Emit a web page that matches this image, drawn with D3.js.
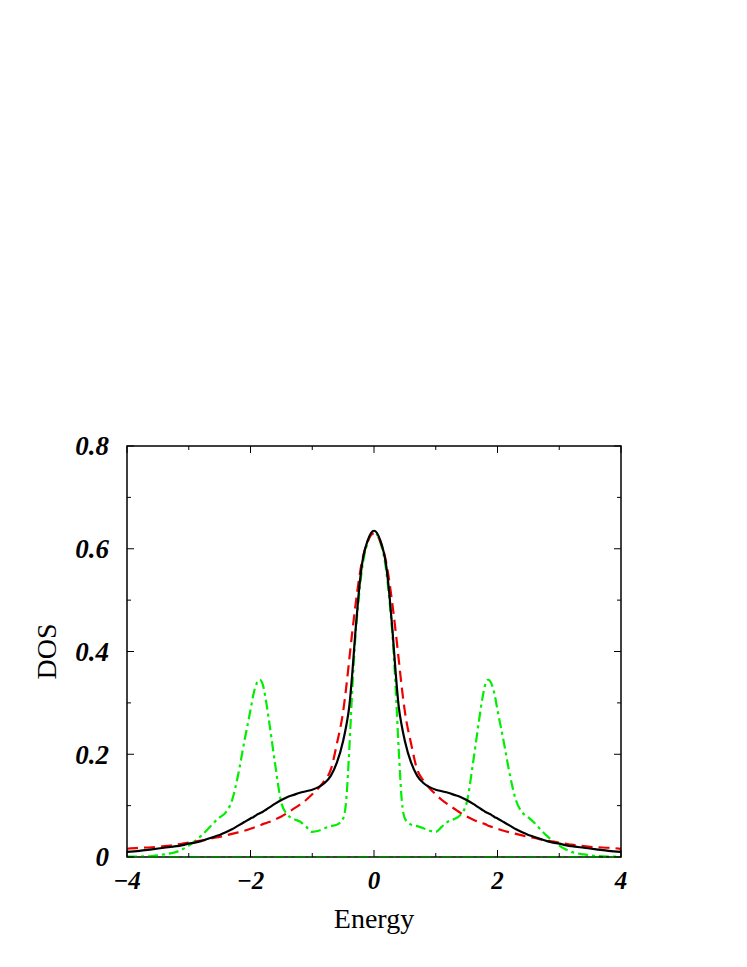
<!DOCTYPE html>
<html lang="en">
<head>
  <meta charset="UTF-8">
  <title>DOS vs Energy</title>
  <script src="https://d3js.org/d3.v7.min.js"></script>
  <style>
    body { margin: 0; background: #fff; }
    .tick-label { font-family: "Times New Roman", "Liberation Serif", "DejaVu Serif", serif; font-weight: bold; font-style: italic; }
    .axis-title { font-family: "Times New Roman", "Liberation Serif", "DejaVu Serif", serif; font-size: 28px; }
  </style>
</head>
<body>
  <svg id="chart"></svg>
  <script>
    // energy grid
    const energy = [-4, -3.8, -3.6, -3.4, -3.2, -3.1, -3, -2.9, -2.8, -2.7, -2.6, -2.5, -2.4, -2.3, -2.2, -2.1, -2, -1.95, -1.9, -1.85, -1.8, -1.75, -1.7, -1.6, -1.5, -1.4, -1.3, -1.2, -1.1, -1, -0.9, -0.8, -0.7, -0.6, -0.5, -0.45, -0.4, -0.35, -0.3, -0.25, -0.2, -0.1, 0,
      0.1, 0.2, 0.25, 0.3, 0.35, 0.4, 0.45, 0.5, 0.6, 0.7, 0.8, 0.9, 1, 1.1, 1.2, 1.3, 1.4, 1.5, 1.6, 1.7, 1.75, 1.8, 1.85, 1.9, 1.95, 2, 2.1, 2.2, 2.3, 2.4, 2.5, 2.6, 2.7, 2.8, 2.9, 3, 3.1, 3.2, 3.4, 3.6, 3.8, 4];

    // black solid
    const dosSolid = [0.010, 0.012, 0.015, 0.018, 0.021, 0.023, 0.026, 0.028, 0.031, 0.035, 0.039, 0.043, 0.048, 0.054, 0.061, 0.068, 0.075, 0.078, 0.082, 0.085, 0.088, 0.092, 0.096, 0.104, 0.111, 0.117, 0.121, 0.125, 0.128, 0.131, 0.136, 0.144, 0.158, 0.184, 0.226, 0.255, 0.293, 0.36, 0.44, 0.51, 0.565, 0.617, 0.635,
      0.617, 0.565, 0.51, 0.44, 0.36, 0.293, 0.255, 0.226, 0.184, 0.158, 0.144, 0.136, 0.131, 0.128, 0.125, 0.121, 0.117, 0.111, 0.104, 0.096, 0.092, 0.088, 0.085, 0.082, 0.078, 0.075, 0.068, 0.061, 0.054, 0.048, 0.043, 0.039, 0.035, 0.031, 0.028, 0.026, 0.023, 0.021, 0.018, 0.015, 0.012, 0.010];

    // red dashed
    const dosDashed = [0.016, 0.018, 0.019, 0.021, 0.024, 0.026, 0.028, 0.030, 0.032, 0.034, 0.037, 0.039, 0.042, 0.045, 0.048, 0.051, 0.055, 0.057, 0.059, 0.061, 0.064, 0.066, 0.068, 0.073, 0.079, 0.086, 0.094, 0.102, 0.111, 0.122, 0.134, 0.149, 0.170, 0.221, 0.283, 0.33, 0.385, 0.44, 0.49, 0.535, 0.572, 0.615, 0.630,
      0.615, 0.572, 0.535, 0.49, 0.44, 0.385, 0.33, 0.283, 0.221, 0.170, 0.149, 0.134, 0.122, 0.111, 0.102, 0.094, 0.086, 0.079, 0.073, 0.068, 0.066, 0.064, 0.061, 0.059, 0.057, 0.055, 0.051, 0.048, 0.045, 0.042, 0.039, 0.037, 0.034, 0.032, 0.030, 0.028, 0.026, 0.024, 0.021, 0.019, 0.018, 0.016];

    // green dash-dot
    const dosDashDot = [0.001, 0.001, 0.002, 0.005, 0.010, 0.015, 0.022, 0.031, 0.041, 0.053, 0.066, 0.077, 0.087, 0.11, 0.16, 0.225, 0.286, 0.318, 0.338, 0.345, 0.335, 0.305, 0.265, 0.18, 0.105, 0.082, 0.074, 0.069, 0.059, 0.049, 0.051, 0.056, 0.060, 0.063, 0.075, 0.11, 0.21, 0.33, 0.43, 0.5, 0.555, 0.613, 0.632,
      0.613, 0.555, 0.5, 0.43, 0.33, 0.21, 0.11, 0.075, 0.063, 0.060, 0.056, 0.051, 0.049, 0.059, 0.069, 0.074, 0.082, 0.105, 0.18, 0.265, 0.305, 0.335, 0.345, 0.338, 0.318, 0.286, 0.225, 0.16, 0.11, 0.087, 0.077, 0.066, 0.053, 0.041, 0.031, 0.022, 0.015, 0.010, 0.005, 0.002, 0.001, 0.001];

    // flat line along zero
    const zeroLine = [-4, 4];

    const xTicks = [-4, -2, 0, 2, 4];
    const yTicks = [0, 0.2, 0.4, 0.6, 0.8];
    const xMinor = [-3, -1, 1, 3];
    const yMinor = [0.1, 0.3, 0.5, 0.7];

    const width = 747, height = 967;
    const margin = { top: 446, right: 126, bottom: 110, left: 127 };
    const plotW = width - margin.left - margin.right;
    const plotH = height - margin.top - margin.bottom;

    const svg = d3.select("#chart")
      .attr("width", width)
      .attr("height", height);

    const g = svg.append("g")
      .attr("transform", "translate(" + margin.left + "," + margin.top + ")");

    const x = d3.scaleLinear().domain([-4, 4]).range([0, plotW]);
    const y = d3.scaleLinear().domain([0, 0.8]).range([plotH, 0]);

    const line = d3.line()
      .x(d => x(d[0]))
      .y(d => y(d[1]))
      .curve(d3.curveMonotoneX);

    // curves
    g.append("path")
      .datum(energy.map((e, i) => [e, dosDashDot[i]]))
      .attr("d", line)
      .attr("fill", "none")
      .attr("stroke", "#00ee00")
      .attr("stroke-width", 2.2)
      .attr("stroke-dasharray", "10,4,3,4");

    g.append("path")
      .datum(energy.map((e, i) => [e, dosDashed[i]]))
      .attr("d", line)
      .attr("fill", "none")
      .attr("stroke", "#ee0000")
      .attr("stroke-width", 2.2)
      .attr("stroke-dasharray", "11,6");

    g.append("path")
      .datum(energy.map((e, i) => [e, dosSolid[i]]))
      .attr("d", line)
      .attr("fill", "none")
      .attr("stroke", "#000")
      .attr("stroke-width", 2.2);

    // frame
    g.append("rect")
      .attr("x", 0).attr("y", 0)
      .attr("width", plotW).attr("height", plotH)
      .attr("fill", "none")
      .attr("stroke", "#000")
      .attr("stroke-width", 1.5);

    g.append("path")
      .datum(zeroLine.map(e => [e, 0]))
      .attr("d", line)
      .attr("fill", "none")
      .attr("stroke", "#0a7a0a")
      .attr("stroke-width", 2)
      .attr("stroke-dasharray", "10,4,3,4");

    // ticks on all four sides, pointing inward
    const major = 7, minor = 4;
    xTicks.concat(xMinor).forEach(v => {
      const len = xTicks.includes(v) ? major : minor;
      g.append("line").attr("x1", x(v)).attr("x2", x(v)).attr("y1", plotH).attr("y2", plotH - len).attr("stroke", "#000");
      g.append("line").attr("x1", x(v)).attr("x2", x(v)).attr("y1", 0).attr("y2", len).attr("stroke", "#000");
    });
    yTicks.concat(yMinor).forEach(v => {
      const len = yTicks.includes(v) ? major : minor;
      g.append("line").attr("y1", y(v)).attr("y2", y(v)).attr("x1", 0).attr("x2", len).attr("stroke", "#000");
      g.append("line").attr("y1", y(v)).attr("y2", y(v)).attr("x1", plotW).attr("x2", plotW - len).attr("stroke", "#000");
    });

    // tick labels
    const fmtX = d => d < 0 ? "\u2212" + Math.abs(d) : String(d);
    const fmtY = d => d === 0 ? "0" : d3.format(".1f")(d);

    g.selectAll(".xlab")
      .data(xTicks)
      .enter()
      .append("text")
      .attr("class", "tick-label")
      .attr("font-size", "25px")
      .attr("x", d => x(d))
      .attr("y", plotH + 32)
      .attr("text-anchor", "middle")
      .text(fmtX);

    g.selectAll(".ylab")
      .data(yTicks)
      .enter()
      .append("text")
      .attr("class", "tick-label")
      .attr("font-size", "27px")
      .attr("x", -18)
      .attr("y", d => y(d))
      .attr("dy", "0.35em")
      .attr("text-anchor", "end")
      .text(fmtY);

    // axis titles
    g.append("text")
      .attr("class", "axis-title")
      .attr("x", plotW / 2)
      .attr("y", plotH + 71)
      .attr("text-anchor", "middle")
      .text("Energy");

    g.append("text")
      .attr("class", "axis-title")
      .attr("transform", "rotate(-90)")
      .attr("x", -y(0.4))
      .attr("y", -71)
      .attr("text-anchor", "middle")
      .text("DOS");
  </script>
</body>
</html>
